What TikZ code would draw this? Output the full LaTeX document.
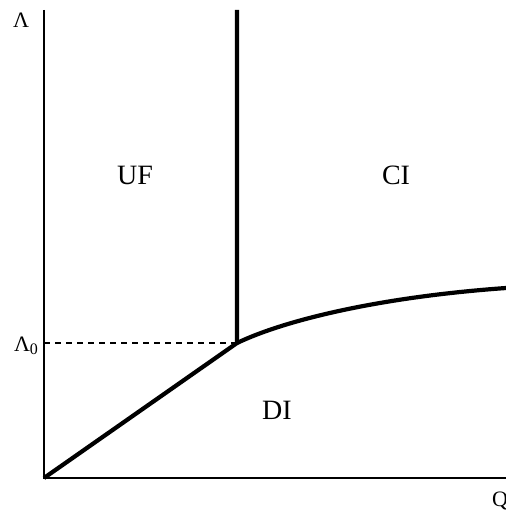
\documentclass[tikz,border=0pt]{standalone}
\usepackage{fontspec}
\setmainfont{Liberation Serif}
\begin{document}
\begin{tikzpicture}[x=0.5pt,y=-0.5pt,
  axis/.style={line width=1.2pt},
  border/.style={line width=2.1pt},
  guide/.style={line width=0.6pt, dash pattern=on 3pt off 2.5pt},
  region/.style={font=\fontsize{14}{16}\selectfont, inner sep=0pt},
  axlabel/.style={font=\fontsize{11}{13}\selectfont, inner sep=0pt}]
\useasboundingbox (0,0) rectangle (506,512);
\coordinate (O) at (44,478);
\coordinate (ytop) at (44,10);
\coordinate (xend) at (506,478);
\coordinate (P) at (237,343);
\coordinate (vtop) at (237,10);
\coordinate (L0) at (44,343);
\coordinate (cend) at (506,288);
\draw[axis] (ytop) -- (O) -- (xend);
\draw[guide] (L0) -- (P);
\draw[border, line join=round] (O) -- (P) -- (vtop);
\draw[border] (P) .. controls (285,320) and (380,297) .. (cend);
\node[axlabel] (lam) at (21,20) {Λ};
\node[axlabel] (lam0) at (26,346) {Λ\raisebox{-0.35ex}{\fontsize{8}{9}\selectfont 0}};
\node[axlabel] (q) at (500,501) {Q};
\node[region] (uf) at (135,175) {UF};
\node[region] (ci) at (396,175) {CI};
\node[region] (di) at (277,410) {DI};
\end{tikzpicture}
\end{document}
